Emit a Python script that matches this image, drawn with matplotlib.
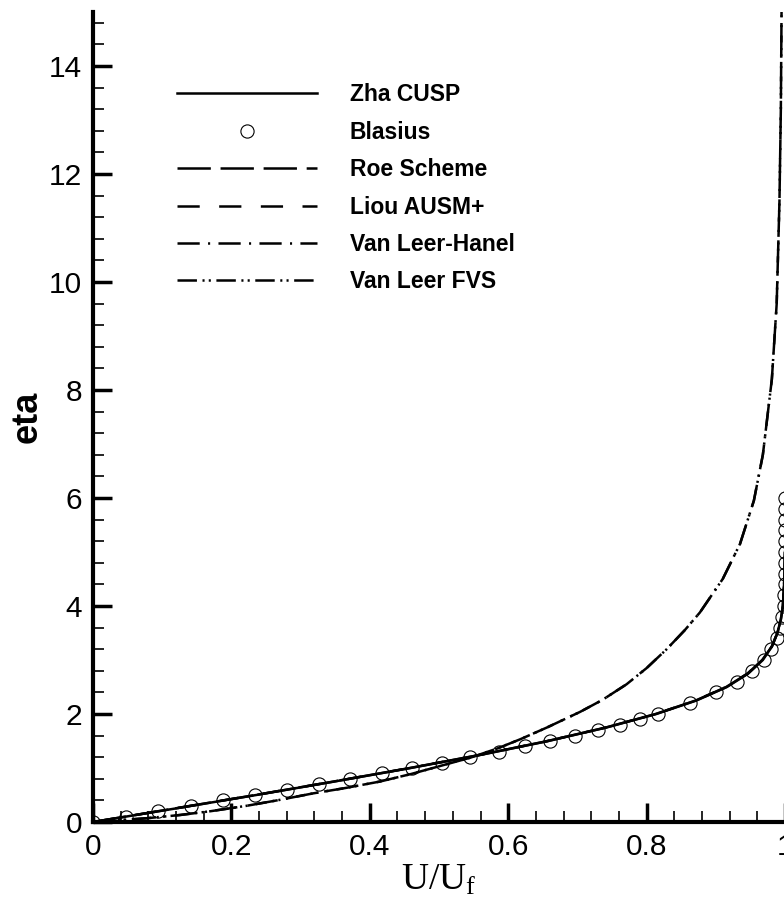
import numpy as np
import matplotlib
matplotlib.use("Agg")
import matplotlib.pyplot as plt
from matplotlib.ticker import MultipleLocator

plt.rcParams['font.family'] = ['Liberation Sans', 'DejaVu Sans']
plt.rcParams['mathtext.fontset'] = 'custom'
plt.rcParams['mathtext.rm'] = 'Liberation Serif'
plt.rcParams['mathtext.it'] = 'Liberation Serif'
plt.rcParams['lines.scale_dashes'] = False

# Blasius solution (U/Uf, eta)
blasius_eta = [0.0, 0.1, 0.2, 0.3, 0.4, 0.5, 0.6, 0.7, 0.8, 0.9, 1.0, 1.1, 1.2, 1.3,
               1.4, 1.5, 1.6, 1.7, 1.8, 1.9, 2.0, 2.2, 2.4, 2.6, 2.8, 3.0, 3.2, 3.4,
               3.6, 3.8, 4.0, 4.2, 4.4, 4.6, 4.8, 5.0, 5.2, 5.4, 5.6, 5.8, 6.0]
blasius_u = [0.0, 0.047, 0.094, 0.141, 0.188, 0.234, 0.281, 0.327, 0.372, 0.417,
             0.461, 0.504, 0.545, 0.586, 0.624, 0.661, 0.697, 0.730, 0.761, 0.790,
             0.817, 0.863, 0.901, 0.931, 0.953, 0.969, 0.980, 0.988, 0.993, 0.996,
             0.998, 0.999, 0.9994, 0.9997, 0.9999, 1.0, 1.0, 1.0, 1.0, 1.0, 1.0]

# Zha CUSP
zha_eta = [0.0, 0.25, 0.5, 0.75, 1.0, 1.25, 1.5, 1.75, 2.0, 2.25, 2.5, 2.75, 3.0,
           3.25, 3.5, 3.75, 4.0, 4.5, 5.0, 6.0, 8.0, 10.0, 12.0, 15.0]
zha_u = [0.0, 0.119, 0.236, 0.349, 0.459, 0.563, 0.658, 0.742, 0.814, 0.872,
         0.916, 0.947, 0.968, 0.981, 0.989, 0.994, 0.997, 0.999, 1.0, 1.0, 1.0,
         1.0, 1.0, 1.0]

# Roe Scheme
roe_eta = [0.0, 0.25, 0.5, 0.75, 1.0, 1.25, 1.5, 1.75, 2.0, 2.25, 2.5, 2.75, 3.0,
           3.25, 3.5, 3.75, 4.0, 4.5, 5.0, 6.0, 8.0, 10.0, 12.0, 15.0]
roe_u = [0.0, 0.118, 0.235, 0.348, 0.458, 0.562, 0.657, 0.741, 0.813, 0.871,
         0.915, 0.946, 0.967, 0.981, 0.989, 0.994, 0.997, 0.999, 1.0, 1.0, 1.0,
         1.0, 1.0, 1.0]

# Liou AUSM+
liou_eta = [0.0, 0.25, 0.5, 0.75, 1.0, 1.25, 1.5, 1.75, 2.0, 2.25, 2.5, 2.75, 3.0,
            3.25, 3.5, 3.75, 4.0, 4.5, 5.0, 6.0, 8.0, 10.0, 12.0, 15.0]
liou_u = [0.0, 0.118, 0.235, 0.348, 0.458, 0.562, 0.657, 0.741, 0.813, 0.871,
          0.915, 0.946, 0.967, 0.981, 0.989, 0.994, 0.997, 0.999, 1.0, 1.0, 1.0,
          1.0, 1.0, 1.0]

# Van Leer-Hanel
vlh_u = [0.0, 0.04, 0.078, 0.126, 0.17, 0.222, 0.27, 0.318, 0.365, 0.415, 0.46,
         0.511, 0.545, 0.584, 0.617, 0.656, 0.704, 0.736, 0.771, 0.80, 0.829,
         0.855, 0.877, 0.91, 0.935, 0.955, 0.968, 0.981, 0.988, 0.992, 0.994, 0.995]
vlh_eta = [0.0, 0.035, 0.07, 0.13, 0.2, 0.3, 0.41, 0.53, 0.63, 0.75, 0.89, 1.07,
           1.19, 1.36, 1.53, 1.75, 2.04, 2.26, 2.55, 2.85, 3.2, 3.55, 3.88, 4.5,
           5.15, 5.95, 6.8, 8.2, 9.6, 11.5, 13.2, 15.0]

# Van Leer FVS
vlf_u = [0.0, 0.04, 0.078, 0.126, 0.17, 0.222, 0.27, 0.318, 0.365, 0.415, 0.46,
         0.511, 0.545, 0.584, 0.617, 0.656, 0.704, 0.736, 0.771, 0.80, 0.829,
         0.855, 0.877, 0.91, 0.935, 0.955, 0.968, 0.981, 0.988, 0.992, 0.994, 0.995]
vlf_eta = [0.0, 0.035, 0.07, 0.13, 0.2, 0.3, 0.41, 0.53, 0.63, 0.75, 0.89, 1.07,
           1.19, 1.36, 1.53, 1.75, 2.04, 2.26, 2.55, 2.85, 3.2, 3.55, 3.88, 4.5,
           5.15, 5.95, 6.8, 8.2, 9.6, 11.5, 13.2, 15.0]

fig = plt.figure(figsize=(7.84, 9.09), dpi=100)
ax = fig.add_axes([93 / 784, 87 / 909, 692 / 784, 810 / 909])

lw = 1.8
ax.plot(zha_u, zha_eta, color='black', lw=lw, label='Zha CUSP')
ax.plot(blasius_u, blasius_eta, ls='none', marker='o', ms=9.5, mfc='none',
        mec='black', mew=0.8, label='Blasius')
ax.plot(roe_u, roe_eta, color='black', lw=lw, dashes=(24, 7), label='Roe Scheme')
ax.plot(liou_u, liou_eta, color='black', lw=lw, dashes=(16, 14), label='Liou AUSM+')
ax.plot(vlh_u, vlh_eta, color='black', lw=lw, dashes=(16, 6, 1.5, 6),
        label='Van Leer-Hanel')
ax.plot(vlf_u, vlf_eta, color='black', lw=lw, dashes=(14, 4, 1.5, 3, 1.5, 4),
        label='Van Leer FVS')

ax.set_xlim(0, 1)
ax.set_ylim(0, 15)
ax.xaxis.set_minor_locator(MultipleLocator(0.04))
ax.yaxis.set_minor_locator(MultipleLocator(0.4))
ax.set_xticks([0, 0.2, 0.4, 0.6, 0.8, 1.0])
ax.set_xticklabels(['0', '0.2', '0.4', '0.6', '0.8', '1'])
ax.set_yticks([0, 2, 4, 6, 8, 10, 12, 14])

for side in ['top', 'right']:
    ax.spines[side].set_visible(False)
for side in ['left', 'bottom']:
    ax.spines[side].set_linewidth(3)

ax.tick_params(which='major', direction='in', length=14, width=2.5,
               labelsize=21.5, pad=8)
ax.tick_params(which='minor', direction='in', length=8, width=1.2)

ax.set_ylabel('eta', fontsize=26, fontweight='bold', labelpad=3)
ax.set_xlabel(r'$\mathrm{U/U_f}$', fontsize=27, labelpad=0)

ax.legend(loc='upper left', bbox_to_anchor=(0.121, 0.912), frameon=False,
          borderpad=0, borderaxespad=0, handlelength=6.1, handletextpad=1.45,
          labelspacing=0.63, numpoints=1,
          prop={'weight': 'bold', 'size': 16.5})

fig.savefig('out.png', dpi=100)
